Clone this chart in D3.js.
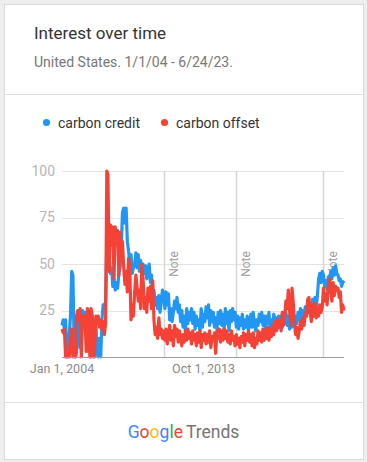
<!DOCTYPE html>
<html>
<head>
<meta charset="utf-8">
<script src="https://cdn.jsdelivr.net/npm/d3@7"></script>
<style>
  html, body { margin: 0; padding: 0; background: #eeeeee; }
  svg { display: block; font-family: Roboto, "Noto Sans", Arial, sans-serif; }
</style>
</head>
<body>
<svg id="chart" width="367" height="462"></svg>
<script>
// ---------- data ----------
const startMonth = "2004-01";
const seriesNames = ["carbon credit", "carbon offset"];
const seriesColors = ["#2196f3", "#f44336"];

const carbonCredit = [
  17,20,15,20,0,3,12,22,46,44,8,0,
  2,18,22,5,12,25,18,24,14,25,3,18,
  0,22,8,0,18,4,0,10,0,20,28,26,
  30,60,50,55,45,48,38,42,36,40,37,45,
  48,60,78,80,72,80,62,57,50,55,45,48,
  50,56,48,55,46,52,44,50,45,49,42,47,
  50,40,44,33,36,28,32,26,33,24,30,36,
  33,26,35,28,34,20,26,19,24,30,26,32,
  24,28,19,25,16,22,14,26,18,24,20,26,
  18,24,15,22,17,20,14,26,16,23,19,27,
  21,28,17,25,19,24,16,21,15,24,18,25,
  17,23,15,26,18,24,14,25,19,26,20,24,
  16,22,15,21,17,23,15,20,16,22,14,18,
  23,16,24,18,14,20,17,23,19,24,17,22,
  15,22,18,24,14,20,16,23,18,21,15,22,
  17,22,16,21,18,24,17,22,15,24,16,21,
  17,22,18,24,20,26,19,25,21,27,22,26,
  24,29,25,31,27,32,26,33,42,45,40,46,
  44,38,41,36,43,40,46,42,48,44,49,45,
  44,41,42,38,40,41
];

const carbonOffset = [
  15,13,15,0,0,2,0,12,15,0,4,0,
  22,25,20,26,0,22,18,22,3,26,24,0,
  26,22,0,4,22,18,22,16,20,15,19,12,
  18,100,98,46,71,60,70,42,70,62,68,44,
  67,55,62,48,39,46,35,53,48,20,28,22,
  35,44,38,30,36,26,50,42,26,32,24,37,
  30,38,26,41,20,12,16,10,21,12,15,10,
  14,9,15,7,12,17,9,14,6,17,11,15,
  8,14,10,6,12,8,14,9,15,10,13,7,
  14,9,12,6,13,8,14,5,12,9,13,7,
  12,8,14,5,11,9,13,2,14,10,15,8,
  14,9,15,10,14,8,12,7,14,9,11,6,
  12,7,10,5,11,8,13,6,12,9,14,8,
  12,6,13,5,10,7,14,9,13,8,15,9,
  14,10,16,9,15,11,17,12,19,14,20,16,
  19,14,24,17,22,30,26,36,25,17,37,30,
  19,12,16,10,14,19,15,21,17,24,22,31,
  32,24,19,28,22,29,21,26,22,28,24,27,
  37,30,34,28,38,42,36,30,40,33,38,36,
  37,32,35,24,28,25
];

const yTicks = [25, 50, 75, 100];
const xTickDates = ["2004-01-01", "2013-10-01"];
const xTickLabels = ["Jan 1, 2004", "Oct 1, 2013"];
const noteDates = ["2011-01-01", "2016-01-01", "2022-01-01"];

const titleText = "Interest over time";
const subtitleText = "United States. 1/1/04 - 6/24/23.";

// ---------- drawing ----------
const svg = d3.select("#chart");
const parse = d3.timeParse("%Y-%m-%d");
const start = d3.timeParse("%Y-%m")(startMonth);
const dates = d3.range(carbonCredit.length).map(i => d3.timeMonth.offset(start, i));

const x = d3.scaleTime()
  .domain([dates[0], dates[dates.length - 1]])
  .range([62, 344]);
const y = d3.scaleLinear().domain([0, 100]).range([357, 171]);

// card
svg.append("rect").attr("x", 4.5).attr("y", 4.5).attr("width", 359).attr("height", 455)
  .attr("fill", "#fff").attr("stroke", "#dadada").attr("stroke-width", 1);

// header
svg.append("text").attr("x", 34).attr("y", 39).attr("font-size", 17)
  .attr("fill", "#333").text(titleText);
svg.append("text").attr("x", 34).attr("y", 67).attr("font-size", 14)
  .attr("fill", "#777").text(subtitleText);
svg.append("line").attr("x1", 5).attr("x2", 363).attr("y1", 94.5).attr("y2", 94.5)
  .attr("stroke", "#e0e0e0");

// legend
const legendX = [46.5, 164.5];
seriesNames.forEach((n, i) => {
  svg.append("circle").attr("cx", legendX[i]).attr("cy", 122.5).attr("r", 3.6)
    .attr("fill", seriesColors[i]);
  svg.append("text").attr("x", legendX[i] + 11.5).attr("y", 128).attr("font-size", 14)
    .attr("fill", "#333").text(n);
});

// gridlines
const grid = svg.append("g");
grid.selectAll("line").data(yTicks).join("line")
  .attr("x1", 62).attr("x2", 344)
  .attr("y1", d => Math.round(y(d)) + 0.5).attr("y2", d => Math.round(y(d)) + 0.5)
  .attr("stroke", "#e4e4e4");

// y labels
svg.append("g").selectAll("text").data(yTicks).join("text")
  .attr("x", 55).attr("y", d => y(d)).attr("dy", "0.35em")
  .attr("text-anchor", "end").attr("font-size", 14).attr("fill", "#b5b5b5")
  .text(d => d);

// note lines
const notes = svg.append("g");
noteDates.forEach(s => {
  const xx = Math.round(x(parse(s))) + 0.5;
  notes.append("line").attr("x1", xx).attr("x2", xx).attr("y1", 171).attr("y2", 357)
    .attr("stroke", "#d6d6d6").attr("stroke-width", 1.5);
  notes.append("text")
    .attr("transform", `translate(${xx + 13},264) rotate(-90)`)
    .attr("text-anchor", "middle").attr("font-size", 12).attr("fill", "#9e9e9e")
    .text("Note");
});

// lines
const line = d3.line().x((d, i) => x(dates[i])).y(d => y(d)).curve(d3.curveLinear);
[carbonCredit, carbonOffset].forEach((s, i) => {
  svg.append("path").datum(s).attr("d", line)
    .attr("fill", "none").attr("stroke", seriesColors[i])
    .attr("stroke-width", 3.2).attr("stroke-linejoin", "round");
});

// baseline
svg.append("line").attr("x1", 62).attr("x2", 344).attr("y1", 357.5).attr("y2", 357.5)
  .attr("stroke", "#9e9e9e").attr("stroke-width", 1);

// x labels
svg.append("g").selectAll("text").data(xTickDates).join("text")
  .attr("x", d => x(parse(d))).attr("y", 373)
  .attr("text-anchor", "middle").attr("font-size", 12.5).attr("fill", "#8a8a8a")
  .text((d, i) => xTickLabels[i]);

// footer
svg.append("line").attr("x1", 5).attr("x2", 363).attr("y1", 402.5).attr("y2", 402.5)
  .attr("stroke", "#e0e0e0");
const logo = svg.append("text").attr("x", 183.5).attr("y", 438)
  .attr("text-anchor", "middle").attr("font-size", 17.5);
const gLetters = [["G","#4285f4"],["o","#ea4335"],["o","#fbbc05"],["g","#4285f4"],["l","#34a853"],["e","#ea4335"]];
gLetters.forEach(([c, col]) => logo.append("tspan").attr("fill", col).text(c));
logo.append("tspan").attr("fill", "#757575").attr("dx", 3).text("Trends");
</script>
</body>
</html>
